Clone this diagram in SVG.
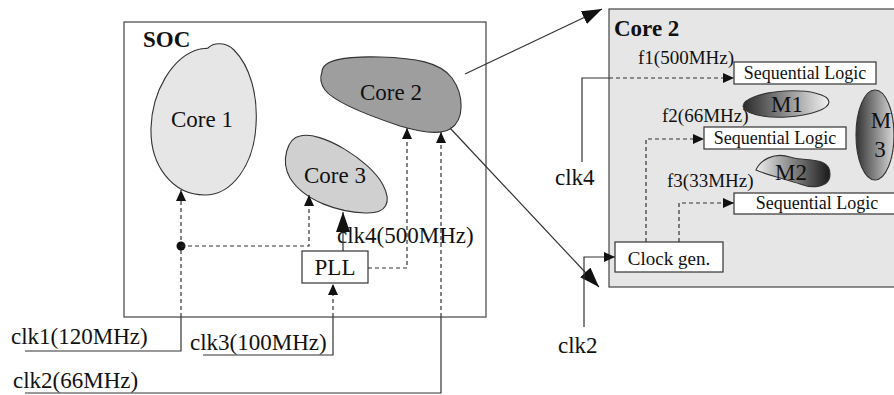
<svg xmlns="http://www.w3.org/2000/svg" width="894" height="395" viewBox="0 0 894 395">
<defs>
<style>
text{font-family:"Liberation Serif","Times New Roman",serif;fill:#111}
.big{font-size:23px}
.sm{font-size:18px}
.mid{font-size:19px}
.b{font-weight:bold}
.box{fill:#fff;stroke:#333;stroke-width:1.2}
.blob{stroke:#333;stroke-width:1.1}
.ln{fill:none;stroke:#333;stroke-width:1.2}
.ds{fill:none;stroke:#333;stroke-width:1.2;stroke-dasharray:4 3}
</style>
<marker id="a" markerUnits="userSpaceOnUse" markerWidth="11" markerHeight="10" refX="11" refY="5" orient="auto"><path d="M0,0 L11,5 L0,10 Z" fill="#111"/></marker>
<marker id="A" markerUnits="userSpaceOnUse" markerWidth="20" markerHeight="14" refX="20" refY="7" orient="auto"><path d="M0,0 L20,7 L0,14 Z" fill="#111"/></marker>
<linearGradient id="g1" x1="0" y1="0" x2="1" y2="0"><stop offset="0" stop-color="#2a2a2a"/><stop offset="1" stop-color="#f2f2f2"/></linearGradient>
<linearGradient id="g2" x1="0" y1="0" x2="1" y2="0"><stop offset="0" stop-color="#eeeeee"/><stop offset="1" stop-color="#1a1a1a"/></linearGradient>
<linearGradient id="g3" x1="0" y1="0" x2="1" y2="0"><stop offset="0" stop-color="#333"/><stop offset="1" stop-color="#d8d8d8"/></linearGradient>
</defs>

<g id="soc">
<rect x="124" y="22" width="362" height="295" fill="#fff" stroke="#444" stroke-width="1.2"/>
<text class="big b" x="143" y="47">SOC</text>
</g>

<g id="core1">
<path class="blob" fill="#e6e6e6" d="M208 48 C214 42,226 42,234 50 C250 66,258 95,256 125 C254 165,232 195,205 195 C172 195,150 165,151 128 C152 92,172 56,200 49 C203 48,206 49,208 48 Z"/>
<text class="big" x="202" y="127" text-anchor="middle">Core 1</text>
</g>

<g id="core2">
<path class="blob" fill="#9e9e9e" d="M322 72 C322 60,345 56,380 57 C415 58,440 62,452 78 C464 95,465 120,450 129 C440 135,420 132,400 126 C370 116,335 103,325 90 C320 83,320 77,322 72 Z"/>
<text class="big" x="391" y="100" text-anchor="middle">Core 2</text>
</g>

<g id="core3">
<path class="blob" fill="#d0d0d0" d="M300 136 C320 130,370 160,383 185 C392 202,387 214,365 213 C340 212,305 202,290 178 C280 160,288 138,300 136 Z"/>
<text class="big" x="335" y="183" text-anchor="middle">Core 3</text>
</g>

<g id="pll">
<rect class="box" x="302" y="251" width="66" height="32"/>
<text class="big" x="335" y="275" text-anchor="middle">PLL</text>
</g>

<g id="core2-detail">
<rect x="609" y="9" width="300" height="278" fill="#e6e6e6" stroke="#444" stroke-width="1.2"/>
<text class="big b" x="614" y="36">Core 2</text>
</g>

<g id="seq1">
<rect class="box" x="734" y="62" width="142" height="22"/>
<text class="sm" x="805" y="79" text-anchor="middle">Sequential Logic</text>
</g>
<g id="seq2">
<rect class="box" x="704" y="127" width="142" height="22"/>
<text class="sm" x="775" y="144" text-anchor="middle">Sequential Logic</text>
</g>
<g id="seq3">
<rect class="box" x="734" y="193" width="170" height="21"/>
<text class="sm" x="817" y="209" text-anchor="middle">Sequential Logic</text>
</g>

<g id="m1">
<ellipse class="blob" cx="786" cy="104" rx="43" ry="13" transform="rotate(-3 786 104)" fill="url(#g1)"/>
<text class="big" x="787" y="112" text-anchor="middle">M1</text>
</g>
<g id="m2">
<path class="blob" fill="url(#g2)" d="M756 170 C760 160,774 152,790 157 C805 162,830 156,830 174 C830 189,810 188,800 184 C790 180,770 176,756 170 Z"/>
<text class="big" x="791" y="180" text-anchor="middle">M2</text>
</g>
<g id="m3">
<ellipse class="blob" cx="875" cy="135" rx="19" ry="45" fill="url(#g3)"/>
<text class="big" x="881" y="128" text-anchor="middle">M</text>
<text class="big" x="880" y="157" text-anchor="middle">3</text>
</g>

<g id="clockgen">
<rect class="box" x="615" y="242" width="108" height="30"/>
<text class="mid" x="669" y="265" text-anchor="middle">Clock gen.</text>
</g>

<g id="labels">
<text class="big" x="337" y="243">clk4(500MHz)</text>
<text class="big" x="11" y="344">clk1(120MHz)</text>
<text class="big" x="190" y="350">clk3(100MHz)</text>
<text class="big" x="13" y="388">clk2(66MHz)</text>
<text class="mid" x="638" y="64">f1(500MHz)</text>
<text class="mid" x="662" y="122">f2(66MHz)</text>
<text class="mid" x="667" y="187">f3(33MHz)</text>
<text class="big" x="555" y="185">clk4</text>
<text class="big" x="558" y="353">clk2</text>
</g>

<g id="connectors">
<path class="ln" d="M25 351 H181 V317"/>
<path class="ds" d="M181 317 V190" marker-end="url(#a)"/>
<circle cx="181" cy="246" r="4.5" fill="#111"/>
<path class="ds" d="M181 246 H309 V195" marker-end="url(#a)"/>
<path class="ln" d="M203 355 H333 V317"/>
<path class="ds" d="M333 317 V284" marker-end="url(#a)"/>
<path class="ln" d="M343 251 V212" marker-end="url(#A)"/>
<path class="ds" d="M368 268 H407 V128" marker-end="url(#a)"/>
<path class="ln" d="M25 393 H441 V317"/>
<path class="ds" d="M441 317 V132" marker-end="url(#a)"/>
<path class="ln" d="M465 74 L602 9" marker-end="url(#A)"/>
<path class="ln" d="M450 128 L599 287" marker-end="url(#A)"/>
<path class="ln" d="M582 162 V78 H609"/>
<path class="ds" d="M609 78 H734" marker-end="url(#a)"/>
<path class="ln" d="M584 327 V257 H615" marker-end="url(#a)"/>
<path class="ds" d="M646 242 V139 H704" marker-end="url(#a)"/>
<path class="ds" d="M679 242 V203 H734" marker-end="url(#a)"/>
</g>
</svg>
